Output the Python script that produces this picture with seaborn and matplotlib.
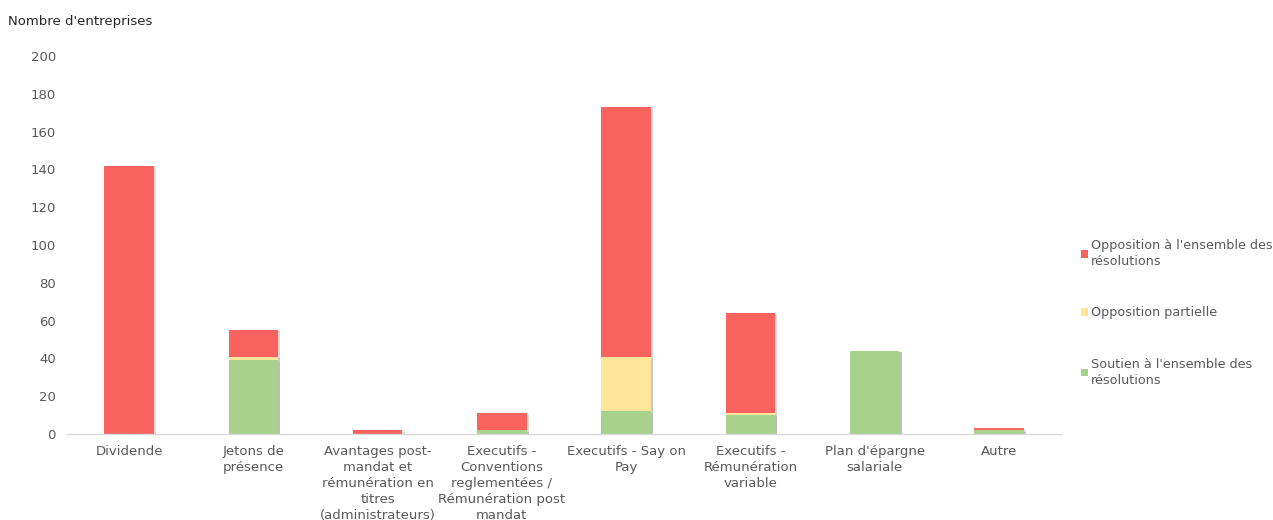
import numpy as np
import pandas as pd
import matplotlib
matplotlib.use("Agg")
import matplotlib.pyplot as plt
import matplotlib.patheffects as pe
from matplotlib.patches import Patch
import seaborn as sns

categories = [
    "Dividende",
    "Jetons de\nprésence",
    "Avantages post-\nmandat et\nrémunération en\ntitres\n(administrateurs)",
    "Executifs -\nConventions\nreglementées /\nRémunération post\nmandat",
    "Executifs - Say on\nPay",
    "Executifs -\nRémunération\nvariable",
    "Plan d'épargne\nsalariale",
    "Autre",
]
soutien = [0, 39, 0, 2, 12, 10, 44, 2]
partielle = [0, 2, 0, 0, 29, 1, 0, 0]
opposition = [142, 14, 2, 9, 132, 53, 0, 1]

series_names = [
    "Opposition à l'ensemble des\nrésolutions",
    "Opposition partielle",
    "Soutien à l'ensemble des\nrésolutions",
]
colors = ["#F8635F", "#FFE699", "#A9D18E"]
y_ticks = [0, 20, 40, 60, 80, 100, 120, 140, 160, 180, 200]

sns.set_theme(style="white")
plt.rcParams["font.family"] = ["DejaVu Sans"]

text_grey = "#595959"

# cumulative tops of each stacked segment (drawn from tallest down)
s = np.array(soutien)
p = np.array(partielle)
o = np.array(opposition)
layers = [
    (s + p + o, colors[0]),
    (s + p, colors[1]),
    (s, colors[2]),
]

fig = plt.figure(figsize=(12.73, 5.2), dpi=100)
ax = fig.add_axes([67 / 1273, 1 - 434 / 520, (1061 - 67) / 1273, (434 - 56) / 520])

for heights, col in layers:
    df = pd.DataFrame({"cat": categories, "n": heights})
    sns.barplot(data=df, x="cat", y="n", color=col, width=0.4, ax=ax,
                saturation=1, linewidth=0, order=categories)

for bar in ax.patches:
    bar.set_path_effects([pe.SimplePatchShadow(offset=(1.5, -1.0), shadow_rgbFace="#b0b0b0", alpha=0.45),
                          pe.Normal()])

ax.set_ylim(0, 200)
ax.set_xlim(-0.5, len(categories) - 0.5)
ax.set_yticks(y_ticks)
ax.set_yticklabels([str(v) for v in y_ticks], color=text_grey, fontsize=9.5)
ax.tick_params(axis="y", length=0, pad=8)
ax.tick_params(axis="x", length=0, pad=8, labelsize=9.5, labelcolor=text_grey)
for lbl in ax.get_xticklabels():
    lbl.set_linespacing(1.3)
ax.set_xlabel("")
ax.set_ylabel("")

for side in ["top", "right", "left"]:
    ax.spines[side].set_visible(False)
ax.spines["bottom"].set_color("#D9D9D9")
ax.spines["bottom"].set_linewidth(1.0)

fig.text(8 / 1273, 1 - 22 / 520, "Nombre d'entreprises", fontsize=9.5,
         color="#262626", va="center", ha="left")

handles = [Patch(facecolor=c, edgecolor="none") for c in colors]
leg = fig.legend(handles, series_names, loc="upper left",
                 bbox_to_anchor=(1081 / 1273, 1 - 239 / 520),
                 frameon=False, fontsize=9.2, handlelength=0.55, handleheight=0.55,
                 handletextpad=0.25, labelspacing=3.0, borderaxespad=0, borderpad=0)
for t in leg.get_texts():
    t.set_color(text_grey)
    t.set_linespacing(1.3)

fig.savefig("out.png", dpi=100, facecolor="white")
